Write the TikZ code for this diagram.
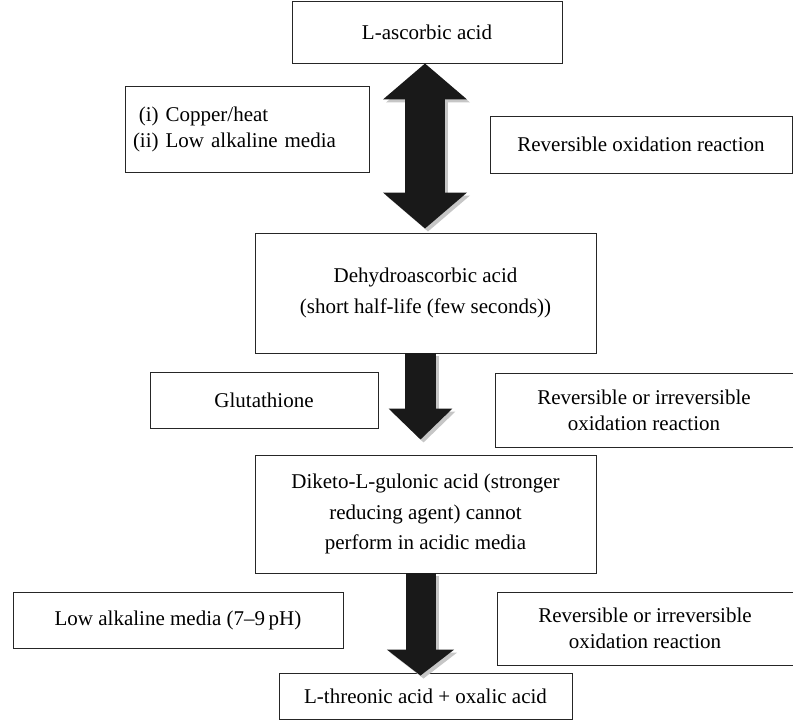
\documentclass[tikz,border=0pt]{standalone}
\usepackage{fontspec}
\setmainfont{Liberation Serif}
\usepackage{tikz}
\usetikzlibrary{arrows.meta,positioning,calc}
\tikzset{%
  % Specifications for style of nodes:
            base/.style = {rectangle, draw=black!85, line width=0.9pt,
                           inner sep=0pt, align=center,
                           font=\fontsize{21}{26}\selectfont},
        compound/.style = {base, minimum width=341pt,
                           font=\fontsize{21}{30.5}\selectfont},
       condition/.style = {base, minimum height=56pt},
        reaction/.style = {base},
  % Specifications for the block arrows:
      solidarrow/.style = {draw=black!90},
     arrowshadow/.style = {draw=gray!45, transform canvas={shift={(3pt,-3pt)}}},
}

\begin{document}
\begin{tikzpicture}[x=1pt, y=-1pt]
  \useasboundingbox (0,0) rectangle (793,720);
  % Specification of nodes (position, etc.)
  \node (asc)  [base, minimum width=270pt, minimum height=62pt] at (427,32)
        {L-ascorbic acid};
  \node (cond1)[base, inner xsep=8pt, text width=228pt, align=left,
                minimum height=86pt] at (247,129)
        {\begin{tabular}{@{}r@{~}l@{}}(i) & Copper/heat\\(ii) & Low alkaline media\end{tabular}};
  \node (rev1) [reaction, minimum width=302pt, minimum height=57pt] at (641,144.5)
        {Reversible oxidation reaction};
  \node (dha)  [compound, minimum height=120pt] at (425.5,293)
        {Dehydroascorbic acid\\(short half-life (few seconds))};
  \node (glu)  [condition, minimum width=228pt] at (264,400) {Glutathione};
  \node (rev2) [reaction, minimum width=298pt, minimum height=74pt] at (644,410)
        {Reversible or irreversible\\oxidation reaction};
  \node (dkg)  [compound, minimum height=118pt] at (425.5,514)
        {Diketo-L-gulonic acid (stronger\\reducing agent) cannot\\perform in acidic media};
  \node (low)  [condition, minimum width=330pt] at (178,620)
        {Low alkaline media (7--9\,pH)};
  \node (rev3) [reaction, minimum width=296pt, minimum height=73pt] at (645,628.5)
        {Reversible or irreversible\\oxidation reaction};
  \node (thr)  [base, minimum width=293pt, minimum height=46pt] at (425.5,696)
        {L-threonic acid + oxalic acid};
  % Specification of block arrows between nodes specified above
  % (grey copy first, shifted, then the black one)
  \foreach \sty in {arrowshadow, solidarrow} {
    \draw[\sty, line width=40pt,
          {Triangle[width=82pt,length=36pt]}-{Triangle[width=82pt,length=36pt]}]
          ([xshift=-2pt]asc.south) -- ([xshift=-0.5pt,yshift=4pt]dha.north);
    \draw[\sty, line width=31pt, -{Triangle[width=62pt,length=31pt]}]
          ([xshift=-5pt]dha.south) -- ([xshift=-5pt,yshift=15pt]dkg.north);
    \draw[\sty, line width=30pt, -{Triangle[width=66pt,length=26pt]}]
          ([xshift=-5pt]dkg.south) -- ([xshift=-5pt,yshift=-3pt]thr.north);
  }
\end{tikzpicture}
\end{document}
